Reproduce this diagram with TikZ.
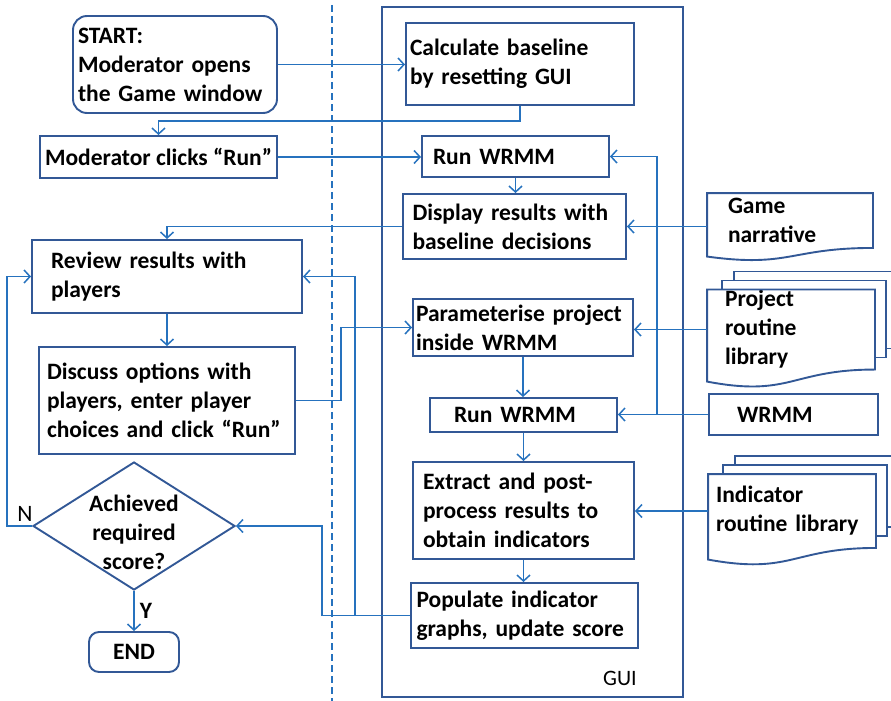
\documentclass[tikz,border=0pt]{standalone}
\usepackage{fontspec}
\setmainfont{Carlito}
\usetikzlibrary{arrows.meta,shapes.geometric,calc}
\definecolor{boxblue}{RGB}{50,88,150}
\definecolor{linkblue}{RGB}{38,114,190}
\tikzset{
  procbox/.style={draw=boxblue, line width=1.9pt, align=left, inner sep=0pt, font=\fontsize{23.5}{29}\selectfont\bfseries},
  docnode/.style={procbox, draw=none},
  docline/.style={draw=boxblue, line width=1.9pt},
  arr/.style={draw=linkblue, line width=1.5pt, -{Straight Barb[length=6pt,width=13pt]}},
  link/.style={draw=linkblue, line width=1.5pt},
}
\newcommand\docwave[2]{%
  \draw[docline] (#1.north west) -- (#1.north east) -- (#1.south east)
    .. controls ($(#1.south east)!0.5!(#1.south west)$) and ($(#1.south east)!0.5!(#1.south west)+(0,#2)$)
    .. ($(#1.south west)+(0,0.43*#2)$) -- cycle;}
\newcommand\backpages[1]{%
  \draw[docline] ([xshift=15pt]#1.north west) -- ([shift={(15,-9)}]#1.north west) -| ([shift={(11,-12)}]#1.south east) -- ([yshift=12pt]#1.south east);
  \draw[docline] ([shift={(27,-9)}]#1.north west) -- ([shift={(27,-18)}]#1.north west) -| ([shift={(23,-21)}]#1.south east) -- ([shift={(11,-21)}]#1.south east);}

\begin{document}
\begin{tikzpicture}[x=1pt,y=-1pt]
  \useasboundingbox (0,0) rectangle (891,701);
  \clip (0,0) rectangle (891,701);

  \draw[linkblue, line width=1.2pt, dash pattern=on 7pt off 4pt] (332,5) -- (332,701);
  \node (gui) [draw=boxblue, line width=1.9pt, minimum width=301pt, minimum height=690pt] at (532.5,352) {};
  \node (guilabel) [font=\fontsize{22}{26}\selectfont] at (620,678) {GUI};

  \node (start) [procbox, rounded corners=14pt, minimum width=204pt, minimum height=97pt, text width=194pt] at (175,64.5) {START:\\Moderator opens\\the Game window};
  \node (modclick) [procbox, minimum width=237pt, minimum height=42pt] at (158.5,157) {Moderator clicks “Run”};
  \node (review) [procbox, minimum width=270pt, minimum height=73pt, text width=232pt] at (167,276.5) {Review results with\\players};
  \node (discuss) [procbox, minimum width=256pt, minimum height=107pt, text width=240pt] at (167,400.5) {Discuss options with\\players, enter player\\choices and click “Run”};
  \node (dec) [diamond, draw=boxblue, line width=1.9pt, minimum width=202pt, minimum height=128pt, inner sep=0pt] at (134,526) {};
  \node (dectext) [procbox, draw=none, align=center] at (134,532) {Achieved\\required\\score?};
  \node (finish) [procbox, rounded corners=10pt, minimum width=90pt, minimum height=40pt] at (134,652) {END};
  \node (ylab) [font=\fontsize{23.5}{29}\selectfont\bfseries] at (146,611) {Y};
  \node (nlab) [font=\fontsize{23.5}{29}\selectfont] at (25,514) {N};

  \node (calc) [procbox, minimum width=228pt, minimum height=82pt, text width=220pt] at (520,64) {Calculate baseline\\by resetting GUI};
  \node (run1) [procbox, minimum width=187pt, minimum height=41pt, text width=165pt] at (515.5,156.5) {Run WRMM};
  \node (display) [procbox, minimum width=223pt, minimum height=65pt, text width=204pt] at (514.5,226.5) {Display results with\\baseline decisions};
  \node (param) [procbox, minimum width=220pt, minimum height=57pt, text width=214pt] at (523,327.5) {Parameterise project\\inside WRMM};
  \node (run2) [procbox, minimum width=187pt, minimum height=34pt, text width=139pt] at (523.5,415) {Run WRMM};
  \node (extract) [procbox, minimum width=221pt, minimum height=97pt, text width=201pt] at (523.5,510.5) {Extract and post-\\process results to\\obtain indicators};
  \node (populate) [procbox, minimum width=227pt, minimum height=65pt, text width=216pt] at (524.5,615.5) {Populate indicator\\graphs, update score};

  \node (narr) [docnode, minimum width=164pt, minimum height=53pt, text width=124pt] at (790,220.5) {Game\\narrative};
  \docwave{narr}{20}
  \node (projlib) [docnode, minimum width=166pt, minimum height=75pt, text width=132pt] at (791,329.5) {Project\\routine\\library};
  \docwave{projlib}{28}
  \backpages{projlib}
  \node (wrmm) [procbox, minimum width=169pt, minimum height=41pt, text width=113pt] at (793.5,414.5) {WRMM};
  \node (indlib) [docnode, minimum width=166pt, minimum height=72pt, text width=152pt] at (792,511) {Indicator\\routine library};
  \docwave{indlib}{27}
  \backpages{indlib}

  \draw[arr] (start.east) -- (start.east -| calc.west);
  \draw[arr] (calc.south) -- ++(0,15) -| (modclick.north);
  \draw[arr] (modclick.east) -- (modclick.east -| run1.west);
  \draw[arr] (run1.south) -- (run1.south |- display.north);
  \draw[arr] (display.west) -| (review.north);
  \draw[arr] (display.east -| narr.west) -- (display.east);
  \draw[arr] (review.south) -- (discuss.north);
  \draw[arr] (discuss.east) -- ++(45,0) |- (param.west);
  \draw[arr] (projlib.west) -- (projlib.west -| param.east);
  \draw[arr] (param.south) -- (param.south |- run2.north);
  \coordinate (jw) at ([xshift=-51pt]wrmm.west);
  \draw[arr] (wrmm.west) -- (wrmm.west -| run2.east);
  \draw[arr] (jw) |- (run1.east);
  \draw[arr] (run2.south) -- (run2.south |- extract.north);
  \draw[arr] (indlib.west) -- (indlib.west -| extract.east);
  \draw[arr] (extract.south) -- (extract.south |- populate.north);
  \draw[arr] (populate.west) -- ++(-88,0) |- (dec.east);
  \draw[arr] ([xshift=-55pt]populate.west) |- (review.east);
  \draw[arr] (dec.south) -- (finish.north);
  \draw[arr] (dec.west) -- ++(-25,0) |- (review.west);
\end{tikzpicture}
\end{document}
